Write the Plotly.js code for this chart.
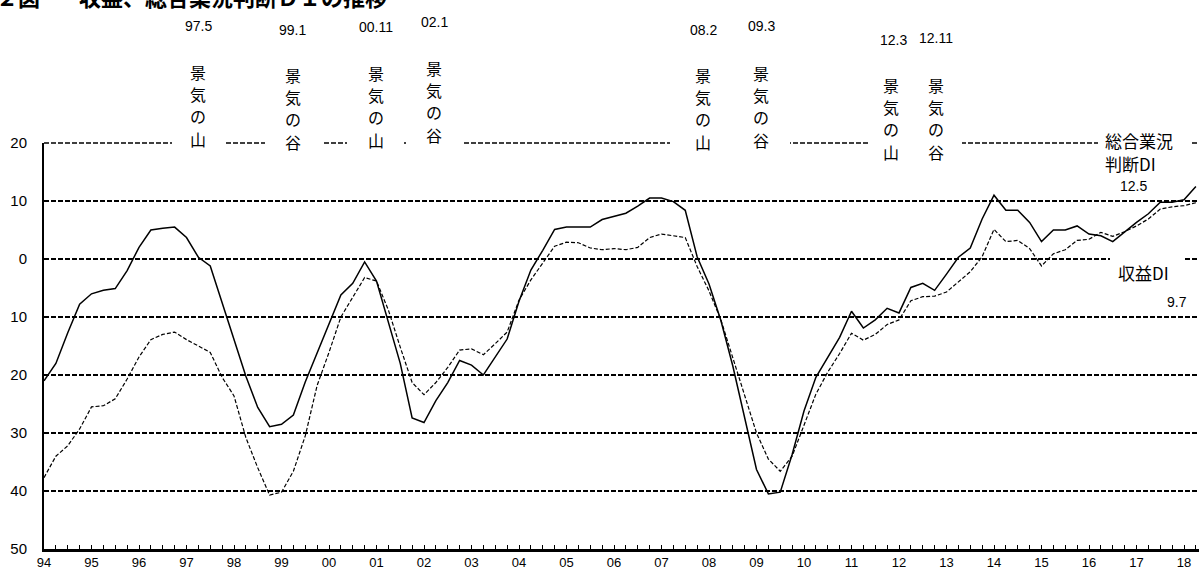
<!DOCTYPE html>
<html>
<head>
<meta charset="utf-8">
<script src="https://cdn.plot.ly/plotly-3.0.1.min.js"></script>
<style>
  html, body { margin: 0; padding: 0; background: #fff; }
  #chart { width: 1199px; height: 572px; }
</style>
</head>
<body>
<div id="chart"></div>
<script>
// 総合業況判断DI (solid) and 収益DI (dashed), quarterly from 1994 Q1
const gyoukyouDI = [
  -21.0, -18.0, -12.7, -7.8,   // 94
  -6.0, -5.4, -5.1, -2.0,      // 95
  2.0, 5.0, 5.3, 5.5,          // 96
  3.7, 0.3, -1.2, -7.5,        // 97
  -13.8, -20.2, -25.6, -28.9,  // 98
  -28.5, -26.9, -21.2, -16.3,  // 99
  -11.4, -6.2, -4.2, -0.5,     // 00
  -3.8, -11.0, -18.0, -27.4,   // 01
  -28.2, -24.4, -21.3, -17.5,  // 02
  -18.3, -20.0, -17.0, -13.8,  // 03
  -7.3, -1.9, 1.5, 5.1,        // 04
  5.5, 5.5, 5.5, 6.8,          // 05
  7.3, 7.9, 9.1, 10.5,         // 06
  10.5, 9.9, 8.4, 0.4,         // 07
  -4.3, -10.6, -18.4, -27.3,   // 08
  -36.3, -40.5, -40.2, -33.7,  // 09
  -26.2, -20.4, -16.9, -13.5,  // 10
  -9.0, -11.9, -10.5, -8.5,    // 11
  -9.3, -4.9, -4.2, -5.4,      // 12
  -2.6, 0.3, 1.9, 6.9,         // 13
  11.0, 8.4, 8.4, 6.3,         // 14
  3.0, 5.0, 5.0, 5.7,          // 15
  4.3, 4.0, 3.0, 4.7,          // 16
  6.3, 7.8, 9.8, 9.8,          // 17
  10.2, 12.5                   // 18
];
const shuuekiDI = [
  -37.7, -34.0, -32.2, -29.3,  // 94
  -25.5, -25.3, -24.1, -20.7,  // 95
  -16.9, -13.9, -13.0, -12.6,  // 96
  -13.9, -15.0, -16.1, -20.4,  // 97
  -23.6, -30.8, -36.0, -40.7,  // 98
  -40.2, -36.6, -30.5, -21.8,  // 99
  -16.1, -10.0, -6.5, -3.2,    // 00
  -3.8, -8.8, -15.2, -21.3,    // 01
  -23.4, -21.3, -18.7, -15.7,  // 02
  -15.5, -16.5, -14.6, -12.6,  // 03
  -7.1, -3.6, -0.7, 2.2,       // 04
  2.9, 2.8, 1.9, 1.6,          // 05
  1.8, 1.6, 2.0, 3.7,          // 06
  4.3, 4.0, 3.7, -1.3,         // 07
  -5.5, -10.5, -17.0, -23.5,   // 08
  -30.0, -34.5, -36.6, -34.0,  // 09
  -28.5, -23.3, -19.5, -16.3,  // 10
  -12.8, -14.0, -13.0, -11.3,  // 11
  -10.5, -7.2, -6.5, -6.4,     // 12
  -5.7, -3.9, -2.2, 0.4,       // 13
  5.1, 3.0, 3.2, 1.8,          // 14
  -1.2, 0.9, 1.6, 3.2,         // 15
  3.4, 4.6, 3.9, 4.7,          // 16
  5.7, 6.9, 8.6, 9.0,          // 17
  9.2, 9.7                     // 18
];
const startYear = 1994;
const yearTicks = [1994,1995,1996,1997,1998,1999,2000,2001,2002,2003,2004,2005,2006,
                   2007,2008,2009,2010,2011,2012,2013,2014,2015,2016,2017,2018];
const yearLabels = ['94','95','96','97','98','99','00','01','02','03','04','05','06',
                    '07','08','09','10','11','12','13','14','15','16','17','18'];
const yTicks = [-50,-40,-30,-20,-10,0,10,20];
const yLabels = ['50','40','30','20','10','0','10','20'];

// turning points of the business cycle
const cycleDates = ['97.5','99.1','00.11','02.1','08.2','09.3','12.3','12.11'];
const cycleKinds = ['山','谷','山','谷','山','谷','山','谷'];

const periods = gyoukyouDI.map((_, i) => startYear + i / 4);

// page geometry
const W = 1199, H = 572, ML = 44, MR = 0, MT = 143, MB = 23;
const PW = W - ML - MR, PH = H - MT - MB;
const px = x => (x - ML) / PW;
const py = y => (H - MB - y) / PH;

const LATIN = 'Liberation Sans, Arial, Noto Sans CJK JP, sans-serif';
const CJK = 'Noto Sans CJK JP, Liberation Sans, sans-serif';

const traces = [
  {
    x: periods, y: gyoukyouDI, type: 'scatter', mode: 'lines',
    name: '総合業況判断DI',
    line: { color: '#000', width: 1.5 }
  },
  {
    x: periods, y: shuuekiDI, type: 'scatter', mode: 'lines',
    name: '収益DI',
    line: { color: '#000', width: 1.2, dash: '4px,2px' }
  }
];

// label placement (pixel centres)
const datePos = [[198,26],[292,30],[376,27],[434,22],[703,30],[761,26],[893,40],[936,38]];
const colTop = [[198,72],[293,75],[376,73],[434,68],[703,75],[761,73],[891,85],[936,85]];
const CHAR_STEP = 22.2;

const annotations = [];
const note = (x, y, text, font, xanchor) => annotations.push({
  xref: 'paper', yref: 'paper', x: px(x), y: py(y),
  xanchor: xanchor || 'center', yanchor: 'middle', showarrow: false,
  borderpad: 0, text: text, font: font
});
const latinFont = s => ({ family: LATIN, size: s, color: '#000' });
const cjkFont = s => ({ family: CJK, size: s, color: '#000' });

cycleDates.forEach((d, k) => {
  note(datePos[k][0], datePos[k][1], d, latinFont(14));
  ['景', '気', 'の', cycleKinds[k]].forEach((ch, j) => {
    note(colTop[k][0], colTop[k][1] + j * CHAR_STEP, ch, cjkFont(16));
  });
});

note(1104, 140, '総合業況', cjkFont(17), 'left');
note(1104, 163, '判断DI', cjkFont(17), 'left');
note(1133, 186, gyoukyouDI[gyoukyouDI.length - 1].toFixed(1), latinFont(14));
note(1117, 272, '収益DI', cjkFont(17), 'left');
note(1177, 302, shuuekiDI[shuuekiDI.length - 1].toFixed(1), latinFont(14));
// chart heading
note(-27, -4, '<b>第２図</b>', cjkFont(22), 'left');
note(78, -4, '<b>収益、総合業況判断ＤＩの推移</b>', cjkFont(22), 'left');

// top grid line at 20 (range edge) and white openings behind the labels
const shapes = [{
  type: 'line', xref: 'paper', yref: 'paper', layer: 'below',
  x0: 0, x1: 1, y0: 1, y1: 1,
  line: { color: '#000', width: 1.5, dash: '5px,2px' }
}];
const gaps = [
  [172,225,138,150],[265,322,138,150],[347,404,138,150],[407,463,138,150],
  [670,790,138,150],[868,962,138,150],[1098,1190,138,150],
  [1110,1185,252,267]
];
gaps.forEach(g => shapes.push({
  type: 'rect', xref: 'paper', yref: 'paper', layer: 'above',
  x0: px(g[0]), x1: px(g[1]), y0: py(g[3]), y1: py(g[2]),
  fillcolor: '#fff', line: { width: 0 }
}));

const layout = {
  width: W, height: H, autosize: false,
  margin: { l: ML, r: MR, t: MT, b: MB, pad: 0 },
  paper_bgcolor: '#fff', plot_bgcolor: '#fff',
  showlegend: false,
  xaxis: {
    range: [startYear, startYear + PW / 47.5],
    tickmode: 'array', tickvals: yearTicks, ticktext: yearLabels,
    ticks: 'inside', ticklen: 4, tickwidth: 1, tickcolor: '#000',
    minor: { tickmode: 'linear', tick0: startYear, dtick: 0.25, ticks: 'inside',
             ticklen: 4, tickwidth: 1, tickcolor: '#000', showgrid: false },
    showgrid: false, zeroline: false,
    showline: true, linecolor: '#000', linewidth: 2.5,
    tickfont: latinFont(13),
    fixedrange: true
  },
  yaxis: {
    range: [-50, 20],
    tickmode: 'array', tickvals: yTicks, ticktext: yLabels,
    ticks: '', ticklabelstandoff: 12,
    showgrid: true, gridcolor: '#000', gridwidth: 1.5, griddash: '5px,2px',
    zeroline: false,
    showline: true, linecolor: '#000', linewidth: 2,
    tickfont: latinFont(15),
    fixedrange: true
  },
  annotations: annotations,
  shapes: shapes
};

Plotly.newPlot('chart', traces, layout, { staticPlot: true, displayModeBar: false });
</script>
</body>
</html>
